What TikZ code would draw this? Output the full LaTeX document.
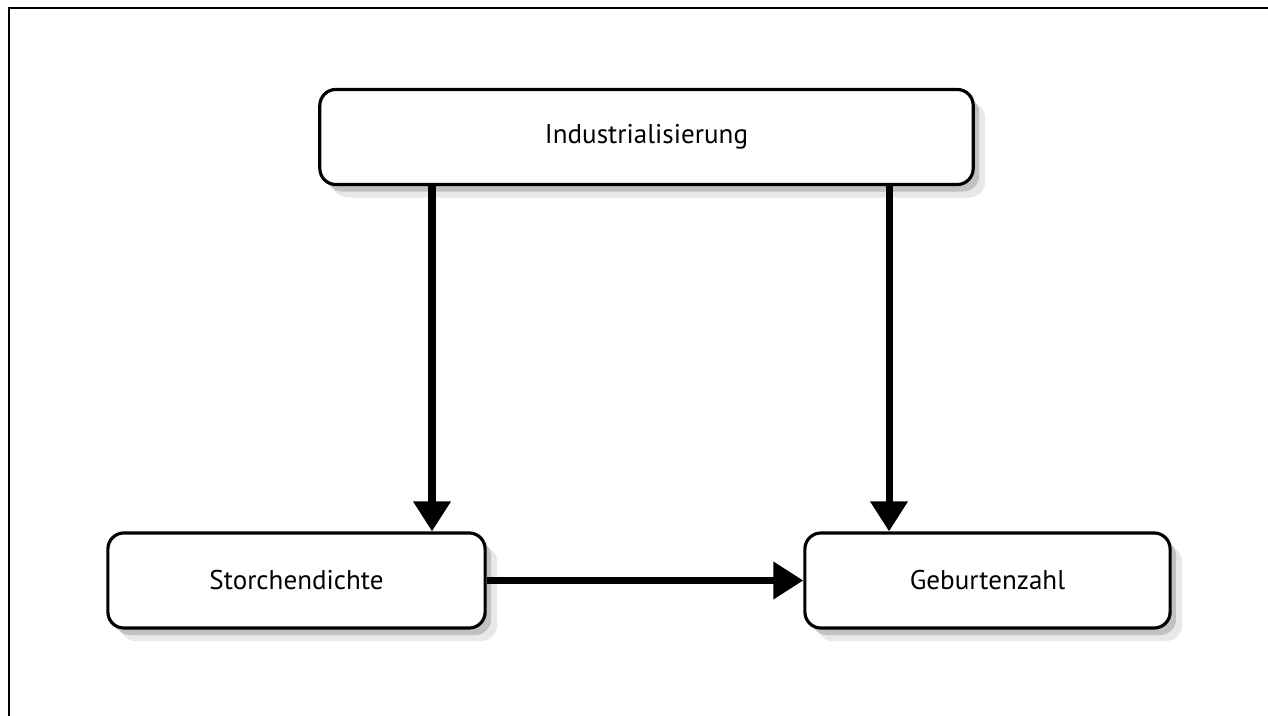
\documentclass[tikz,border=0pt]{standalone}
\usepackage{fontspec}
\setmainfont{PT Sans}
\usetikzlibrary{arrows.meta,shadows,positioning}

\begin{document}
\begin{tikzpicture}[x=0.01cm,y=0.01cm,
    box/.style={draw,line width=0.9pt,rounded corners=0.16cm,fill=white,
        minimum height=0.95cm,font=\fontsize{7.7}{9}\selectfont,
        drop shadow={shadow xshift=0.12cm,shadow yshift=-0.13cm,opacity=0.15,fill=black!60},
        drop shadow={shadow xshift=0.06cm,shadow yshift=-0.07cm,opacity=0.3,fill=black!60}},
    pfeil/.style={line width=2pt,-{Triangle[length=0.3cm,width=0.36cm]}}]
            \useasboundingbox (0,0) rectangle (1268,716);

            % open frame (left and top edge only)
            \draw[line width=0.6pt] (9,-5) |- (1275,708);

            \node[box,minimum width=6.53cm] (ind) at (646.5,579) {Industrialisierung};
            \node[box,minimum width=3.77cm] (storch) at (296.5,135.5) {Storchendichte};
            \node[box,minimum width=3.65cm] (geburt) at (987.5,135.5) {Geburtenzahl};

            \coordinate (la) at (432,0);
            \coordinate (ra) at (889,0);

            \draw[pfeil] (ind.south -| la) -- (storch.north -| la);
            \draw[pfeil] (ind.south -| ra) -- (geburt.north -| ra);
            \draw[pfeil] (storch.east) -- (geburt.west);
        \end{tikzpicture}
\end{document}
